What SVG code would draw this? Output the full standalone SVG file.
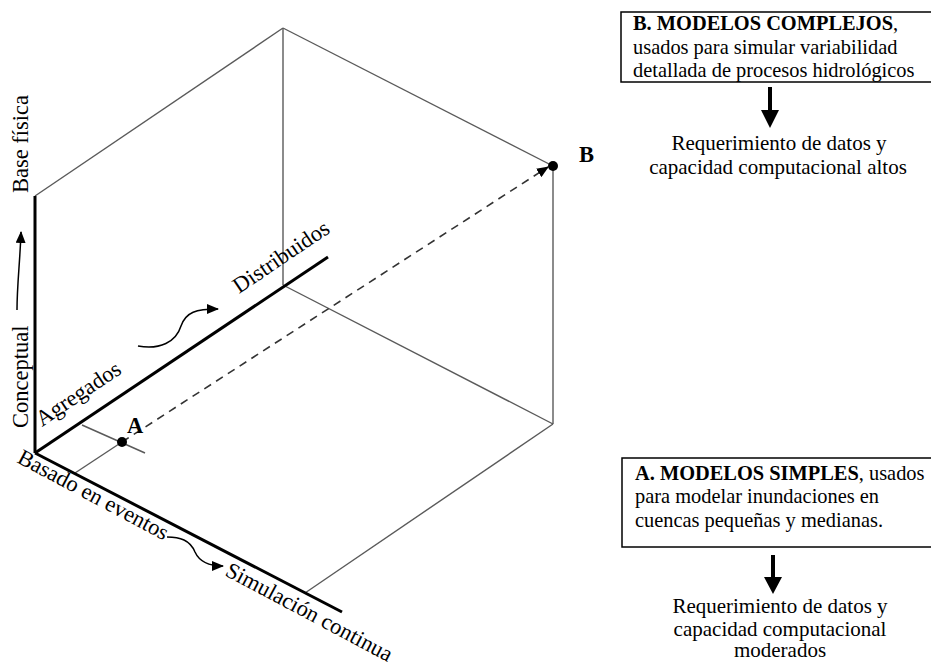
<svg xmlns="http://www.w3.org/2000/svg" width="931" height="662" viewBox="0 0 931 662">
<style>
.thin{stroke:#5a5a5a;stroke-width:1.4;fill:none}
.thick{stroke:#000;stroke-width:3;fill:none}
.curl{stroke:#000;stroke-width:1.5;fill:none}
.lbl{font-family:"Liberation Serif","Times New Roman",serif;font-size:22.5px;fill:#000}
.box{font-family:"Liberation Serif","Times New Roman",serif;font-size:20.4px;fill:#000}
.req{font-family:"Liberation Serif","Times New Roman",serif;font-size:21px;fill:#000;text-anchor:middle}
.bold{font-weight:bold}
.frame{fill:#fff;stroke:#000;stroke-width:1.5}
</style>
<defs>
<marker id="tri" viewBox="0 0 12 10" refX="11" refY="5" markerWidth="12" markerHeight="10" markerUnits="userSpaceOnUse" orient="auto">
<path d="M0,0 L12,5 L0,10 Z" fill="#000"/>
</marker>
</defs>
<rect width="931" height="662" fill="#fff"/>
<g id="cube">
<line class="thin" x1="35" y1="196" x2="283" y2="28"/>
<line class="thin" x1="283" y1="28" x2="553" y2="166"/>
<line class="thin" x1="283" y1="28" x2="283" y2="285"/>
<line class="thin" x1="283" y1="285" x2="553" y2="424"/>
<line class="thin" x1="553" y1="166" x2="553" y2="424"/>
<line class="thin" x1="553" y1="424" x2="305" y2="593"/>
<line class="thin" x1="82" y1="425" x2="145" y2="453"/>
<line class="thin" x1="75" y1="473" x2="122" y2="442"/>
</g>
<g id="axes">
<line class="thick" x1="35" y1="453" x2="35" y2="196"/>
<line class="thick" x1="35" y1="453" x2="328" y2="257"/>
<line class="thick" x1="35" y1="453" x2="342" y2="612"/>
</g>
<g id="connectors">
<line x1="122" y1="442" x2="548" y2="167" stroke="#333" stroke-width="1.6" stroke-dasharray="8,6" marker-end="url(#tri)"/>
<path class="curl" d="M17,310 C17,285 20,262 21,232" marker-end="url(#tri)"/>
<path class="curl" d="M138,346 C160,350 176,342 181,326 C186,312 196,309 218,309" marker-end="url(#tri)"/>
<path class="curl" d="M167,537 C180,537 190,540 195,552 C200,563 210,566 223,566" marker-end="url(#tri)"/>
</g>
<g id="pointA">
<circle cx="122" cy="442" r="5" fill="#000"/>
<text class="lbl bold" x="127" y="433" font-size="20">A</text>
</g>
<g id="pointB">
<circle cx="553" cy="166" r="5" fill="#000"/>
<text class="lbl bold" x="579" y="162" font-size="20">B</text>
</g>
<g id="axis-labels">
<text class="lbl" transform="translate(28,193) rotate(-90)">Base física</text>
<text class="lbl" font-size="24" transform="translate(28,428) rotate(-90)">Conceptual</text>
<text class="lbl" font-size="24" transform="translate(42,427) rotate(-34)">Agregados</text>
<text class="lbl" font-size="23" transform="translate(239,294) rotate(-34)">Distribuidos</text>
<text class="lbl" font-size="22" transform="translate(16,462) rotate(28)">Basado en eventos</text>
<text class="lbl" font-size="21.8" transform="translate(224,575) rotate(28)">Simulación continua</text>
</g>
<g id="boxB">
<rect class="frame" x="621" y="12" width="320" height="70"/>
<text class="box" x="633" y="30"><tspan class="bold">B. MODELOS COMPLEJOS</tspan>,</text>
<text class="box" x="633" y="54">usados para simular variabilidad</text>
<text class="box" x="633" y="77">detallada de procesos hidrológicos</text>
</g>
<g id="arrowB">
<path d="M768,87 H772 V110 H779 L770,128 L761,110 H768 Z" fill="#000"/>
</g>
<g id="reqB">
<text class="req" x="779" y="150">Requerimiento de datos y</text>
<text class="req" x="778" y="174">capacidad computacional altos</text>
</g>
<g id="boxA">
<rect class="frame" x="622" y="458" width="320" height="89"/>
<text class="box" x="635" y="480"><tspan class="bold">A. MODELOS SIMPLES</tspan>, usados</text>
<text class="box" x="635" y="503">para modelar inundaciones en</text>
<text class="box" x="635" y="527">cuencas pequeñas y medianas.</text>
</g>
<g id="arrowA">
<path d="M771,555 H775 V577 H782 L773,594 L764,577 H771 Z" fill="#000"/>
</g>
<g id="reqA">
<text class="req" x="780" y="613">Requerimiento de datos y</text>
<text class="req" x="780" y="636">capacidad computacional</text>
<text class="req" x="780" y="657">moderados</text>
</g>
</svg>
